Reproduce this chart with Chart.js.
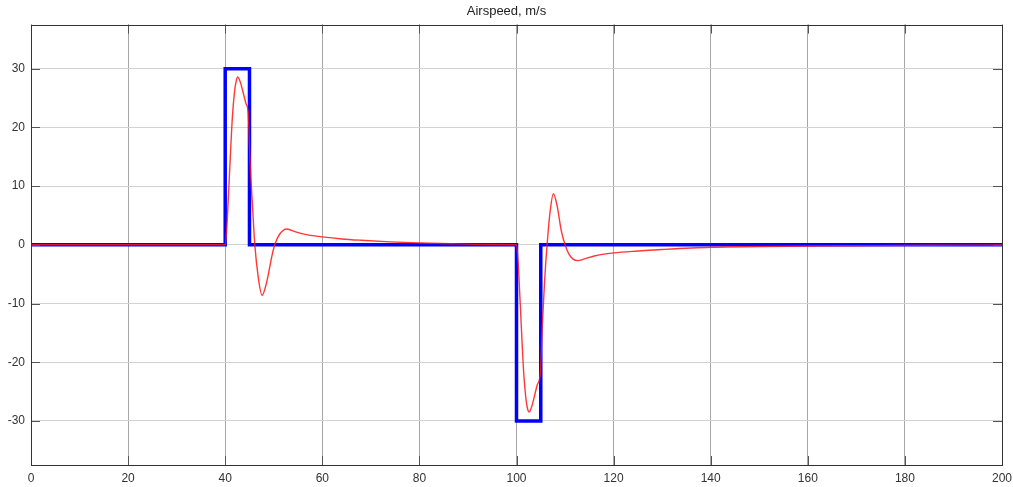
<!DOCTYPE html>
<html lang="en">
<head>
    <meta charset="UTF-8">
    <title>Airspeed, m/s</title>
    <script src="https://cdn.jsdelivr.net/npm/chart.js"></script>
    <style>
        body { margin: 0; background: #fff; }
        .chart-box { width: 1013px; height: 487px; }
    </style>
</head>
<body>
    <div class="chart-box"><canvas id="airspeedChart"></canvas></div>
    <script>
        // Reference command (blue step)
        const stepT = [0, 40, 40, 45, 45, 100, 100, 105, 105, 200];
        const stepV = [0, 0, 30, 30, 0, 0, -30, -30, 0, 0];

        // Measured airspeed response (red)
        const respT = [0, 40, 40.3, 40.8, 41.2, 41.5, 42.0, 42.3, 42.55, 42.9, 43.3, 43.8, 44.3, 44.75, 45.1, 45.6, 46.1, 46.8, 47.6, 48.5, 49.6, 50.2, 51.2, 52.7,
            54.5, 57, 60, 64, 68, 74, 80, 88, 95, 100,
            100.3, 100.8, 101.2, 101.5, 102.0, 102.3, 102.6, 102.9, 103.3, 103.8, 104.3, 104.9, 105.3, 105.8, 106.3, 106.9, 107.6, 108.4, 109.2, 110,
            110.8, 111.6, 112.6, 114, 116, 120, 125, 130, 140, 150, 160, 170, 185, 200];
        const respV = [0, 0, 2.5, 10.6, 17.5, 22, 26.6, 28, 28.6, 28.2, 27.2, 25.6, 24, 22.4, 14.5, 7, 0, -5.5, -8.6, -6.5, -2, 0, 1.8, 2.7,
            2.2, 1.7, 1.35, 1.0, 0.77, 0.5, 0.3, 0.15, 0.05, 0,
            -2.5, -10.6, -17.5, -22, -26.6, -28, -28.5, -28.1, -27.1, -25.4, -23.8, -21.9, -14, -6, 0, 5.5, 8.7, 6.5, 2.5, 0,
            -1.6, -2.4, -2.7, -2.4, -1.9, -1.38, -1.05, -0.8, -0.42, -0.3, -0.2, -0.15, -0.08, -0.04];

        const xTicks = [0, 20, 40, 60, 80, 100, 120, 140, 160, 180, 200];
        const yTicks = [-30, -20, -10, 0, 10, 20, 30];

        const toPoints = (xs, ys) => xs.map((x, i) => ({ x: x, y: ys[i] }));

        // frame + inward tick marks, like the original plot
        const frameTicks = {
            id: 'frameTicks',
            afterDraw(chart) {
                const { ctx, chartArea: a, scales } = chart;
                ctx.save();
                ctx.strokeStyle = '#555';
                ctx.lineWidth = 1;
                ctx.beginPath();
                xTicks.forEach(v => {
                    const px = Math.round(scales.x.getPixelForValue(v)) + 0.5;
                    ctx.moveTo(px, a.bottom); ctx.lineTo(px, a.bottom - 9);
                    ctx.moveTo(px, a.top); ctx.lineTo(px, a.top + 9);
                });
                yTicks.forEach(v => {
                    const py = Math.round(scales.y.getPixelForValue(v)) + 0.5;
                    ctx.moveTo(a.left, py); ctx.lineTo(a.left + 9, py);
                    ctx.moveTo(a.right, py); ctx.lineTo(a.right - 9, py);
                });
                ctx.stroke();
                ctx.strokeStyle = '#333';
                ctx.strokeRect(Math.round(a.left) + 0.5, Math.round(a.top) + 0.5,
                    Math.round(a.right - a.left), Math.round(a.bottom - a.top));
                ctx.restore();
            }
        };

        new Chart(document.getElementById('airspeedChart'), {
            type: 'scatter',
            data: {
                datasets: [{
                    label: 'Airspeed',
                    data: toPoints(respT, respV),
                    showLine: true,
                    borderColor: 'rgba(255, 20, 20, 0.85)',
                    borderWidth: 1.4,
                    pointRadius: 0,
                    cubicInterpolationMode: 'monotone'
                }, {
                    label: 'Command',
                    data: toPoints(stepT, stepV),
                    showLine: true,
                    borderColor: '#0000ff',
                    borderWidth: 3.5,
                    borderJoinStyle: 'miter',
                    pointRadius: 0,
                    tension: 0
                }]
            },
            options: {
                responsive: true,
                maintainAspectRatio: false,
                animation: false,
                layout: { padding: { left: 0, right: 0, top: 0, bottom: 0 } },
                plugins: {
                    legend: { display: false },
                    tooltip: { enabled: false },
                    title: {
                        display: true,
                        text: 'Airspeed, m/s',
                        color: '#222',
                        font: { family: 'Liberation Sans, Arial, sans-serif', size: 13, weight: 'normal' },
                        padding: { top: 4, bottom: 5 }
                    }
                },
                scales: {
                    x: {
                        type: 'linear',
                        min: 0,
                        max: 200,
                        afterBuildTicks: s => { s.ticks = xTicks.map(v => ({ value: v })); },
                        afterFit: s => { s.height = 22; s.paddingLeft = 0; s.paddingRight = 11; },
                        grid: { color: '#a6a6a6', lineWidth: 1, drawTicks: false },
                        border: { display: false },
                        ticks: {
                            color: '#333',
                            padding: 6,
                            maxRotation: 0,
                            font: { family: 'Liberation Sans, Arial, sans-serif', size: 12 }
                        }
                    },
                    y: {
                        type: 'linear',
                        min: -37.5,
                        max: 37.5,
                        afterBuildTicks: s => { s.ticks = yTicks.map(v => ({ value: v })); },
                        afterFit: s => { s.width = 31; },
                        grid: { color: '#d2d2d2', lineWidth: 1, drawTicks: false },
                        border: { display: false },
                        ticks: {
                            color: '#333',
                            padding: 6,
                            font: { family: 'Liberation Sans, Arial, sans-serif', size: 12 }
                        }
                    }
                }
            },
            plugins: [frameTicks]
        });
    </script>
</body>
</html>
